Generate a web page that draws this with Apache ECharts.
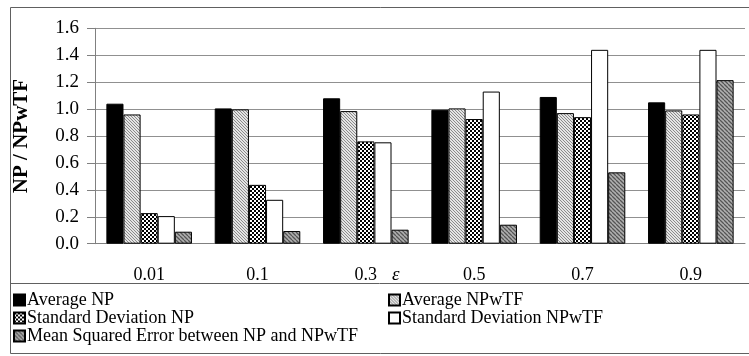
<!DOCTYPE html>
<html><head><meta charset="utf-8">
<script src="https://cdn.jsdelivr.net/npm/echarts@6/dist/echarts.min.js"></script>
<style>html,body{margin:0;padding:0;background:#fff}#c{width:749px;height:356px}</style>
</head><body><div id="c"></div>
<script>
const categories = ['0.01', '0.1', '0.3', '0.5', '0.7', '0.9'];
const avgNP = [1.04, 1.005, 1.08, 0.995, 1.09, 1.05];
const avgNPwTF = [0.96, 0.998, 0.985, 1.005, 0.97, 0.99];
const sdNP = [0.227, 0.437, 0.76, 0.926, 0.94, 0.96];
const sdNPwTF = [0.205, 0.326, 0.753, 1.13, 1.44, 1.44];
const mseNP = [0.089, 0.094, 0.104, 0.141, 0.53, 1.215];
const yTicks = [0, 0.2, 0.4, 0.6, 0.8, 1.0, 1.2, 1.4, 1.6];
const seriesNames = ['Average NP', 'Average NPwTF', 'Standard Deviation NP', 'Standard Deviation NPwTF', 'Mean Squared Error between NP and NPwTF'];

function hatch(bg, fg, step, lw) {
  const c = document.createElement('canvas');
  c.width = step; c.height = step;
  const g = c.getContext('2d');
  g.fillStyle = bg; g.fillRect(0, 0, step, step);
  g.strokeStyle = fg; g.lineWidth = lw;
  g.beginPath();
  for (let k = -1; k <= 1; k++) {
    g.moveTo(k * step, 0); g.lineTo(k * step + step, step);
  }
  g.stroke();
  return { image: c, repeat: 'repeat' };
}
function checker() {
  const c = document.createElement('canvas');
  c.width = 4; c.height = 4;
  const g = c.getContext('2d');
  g.fillStyle = '#fff'; g.fillRect(0, 0, 4, 4);
  g.fillStyle = '#000'; g.fillRect(0, 0, 2, 2); g.fillRect(2, 2, 2, 2);
  return { image: c, repeat: 'repeat' };
}
const fills = ['#000', hatch('#e4e4e4', '#8a8a8a', 3, 1), checker(), '#fff', hatch('#b0b0b0', '#555', 4, 1.3)];
const datas = [avgNP, avgNPwTF, sdNP, sdNPwTF, mseNP];
const FONT = 'Liberation Serif';

const chart = echarts.init(document.getElementById('c'), null, { renderer: 'canvas' });
const legendPos = [[13, 291], [388, 291], [13, 309], [388, 309], [13, 327]];
chart.setOption({
  animation: false,
  textStyle: { fontFamily: FONT },
  grid: { left: 95, right: 4, top: 28.3, bottom: 112.3, containLabel: false },
  xAxis: {
    type: 'category', data: categories,
    axisLine: { lineStyle: { color: '#808080', width: 1 } },
    axisTick: { length: 5, lineStyle: { color: '#808080' } },
    axisLabel: { fontFamily: FONT, fontSize: 18, color: '#000', margin: 23 }
  },
  yAxis: {
    type: 'value', min: 0, max: 1.6, interval: 0.2,
    axisLine: { show: true, lineStyle: { color: '#808080' } },
    axisTick: { show: true, length: 8, lineStyle: { color: '#808080' } },
    splitLine: { lineStyle: { color: '#909090', width: 1 } },
    axisLabel: { fontFamily: FONT, fontSize: 19, color: '#000', margin: 16, formatter: v => v.toFixed(1) },
    name: 'NP / NPwTF', nameLocation: 'middle', nameGap: 63, nameRotate: 90,
    nameTextStyle: { fontFamily: FONT, fontSize: 21, fontWeight: 'bold', color: '#000' }
  },
  legend: seriesNames.map((n, i) => ({
    data: [n], left: legendPos[i][0], top: legendPos[i][1], padding: 0,
    itemWidth: 11, itemHeight: 11, itemGap: 4, icon: 'rect',
    textStyle: { fontFamily: FONT, fontSize: 18, color: '#000', padding: [0, 0, 0, -3] }
  })),
  series: seriesNames.map((n, i) => ({
    name: n, type: 'bar', data: datas[i],
    barGap: '0%', barCategoryGap: '21%',
    itemStyle: { color: fills[i], borderColor: '#000', borderWidth: 1 }
  })),
  graphic: [
    { type: 'rect', shape: { x: 10.5, y: 7.5, width: 745, height: 346 }, style: { fill: 'none', stroke: '#606060', lineWidth: 1 } },
    { type: 'line', shape: { x1: 10, y1: 283.5, x2: 749, y2: 283.5 }, style: { stroke: '#606060', lineWidth: 1 } },
    { type: 'text', left: 392, top: 265, style: { text: 'ε', font: 'italic 19px "Liberation Serif"', fill: '#000' } }
  ]
});
</script></body></html>
